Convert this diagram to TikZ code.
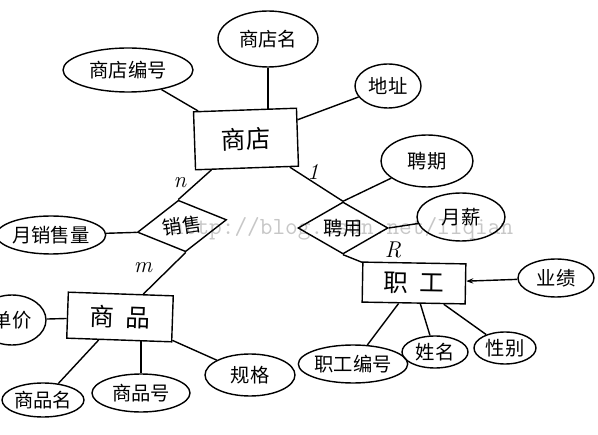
\documentclass[tikz,border=0pt]{standalone}
\usepackage{fontspec}
\newfontfamily\cjk{Noto Sans CJK SC}
\usetikzlibrary{shapes.geometric,arrows.meta}

\begin{document}
\begin{tikzpicture}[
    x=0.02cm, y=-0.02cm,
    every node/.style={font=\cjk\fontsize{11}{12}\selectfont},
    attr/.style={ellipse,draw,thick,inner sep=0pt},
    entity/.style={rectangle,draw,thick,inner sep=0pt,font=\cjk\fontsize{14}{16}\selectfont},
    rel/.style={diamond,draw,thick,inner sep=0pt,aspect=1.7},
    card/.style={font=\itshape\fontsize{13}{14}\selectfont},
    link/.style={thick}]
    \useasboundingbox (0,0) rectangle (598,435);
    % watermark
    \node[text=black!22,font=\ttfamily\fontsize{14}{14}\selectfont,anchor=west] (wm) at (165,229) {http://blog.csdn.net/liqian};
    % entities
    \node[entity,minimum width=2.06cm,minimum height=1.16cm,rotate=2] (shop) at (246,139) {商店};
    \node[entity,minimum width=2.1cm,minimum height=0.92cm,rotate=-2] (goods) at (120,317) {商\ \ 品};
    \node[entity,minimum width=2.06cm,minimum height=0.8cm,rotate=-1] (staff) at (414,283) {职\ \ 工};
    % relationships
    \node[rel,minimum width=1.8cm,minimum height=1.04cm,rotate=8] (sell) at (182,226) {销售};
    \node[rel,minimum width=1.8cm,minimum height=1.04cm] (hire) at (343,228) {聘用};
    % attributes
    \node[attr,minimum width=2.6cm,minimum height=0.88cm] (shopno) at (128,70) {商店编号};
    \node[attr,minimum width=2cm,minimum height=1.12cm] (shopname) at (268,39) {商店名};
    \node[attr,minimum width=1.32cm,minimum height=0.88cm] (addr) at (388,86) {地址};
    \node[attr,minimum width=1.9cm,minimum height=0.76cm] (sales) at (51,235) {月销售量};
    \node[attr,minimum width=1.36cm,minimum height=1cm] (price) at (12,320) {单价};
    \node[attr,minimum width=1.6cm,minimum height=0.68cm] (gname) at (43,400) {商品名};
    \node[attr,minimum width=1.96cm,minimum height=0.76cm] (gno) at (141,393) {商品号};
    \node[attr,minimum width=1.8cm,minimum height=0.84cm] (spec) at (250,375) {规格};
    \node[attr,minimum width=1.84cm,minimum height=1.04cm] (term) at (427,161) {聘期};
    \node[attr,minimum width=1.76cm,minimum height=0.96cm] (pay) at (461,217) {月薪};
    \node[attr,minimum width=1.52cm,minimum height=0.76cm] (perf) at (556,278) {业绩};
    \node[attr,minimum width=1.86cm,minimum height=0.76cm] (staffno) at (353,364) {职工编号};
    \node[attr,minimum width=1.32cm,minimum height=0.64cm] (sname) at (435,352) {姓名};
    \node[attr,minimum width=1.24cm,minimum height=0.64cm] (sex) at (505,348) {性别};
    % cardinalities
    \node[card] (cn) at (180,183) {n};
    \node[card] (c1) at (313,172) {1};
    \node[card] (cm) at (143,268) {m};
    \node[card] (ck) at (393,250) {R};
    % connectors
    \draw[link] (shopno) -- (shop);
    \draw[link] (shopname.south) -- (shopname.south |- shop.north);
    \draw[link] (addr) -- (shop);
    \draw[link] (shop) -- (sell.north);
    \draw[link] (shop) -- (hire.north);
    \draw[link] (sales) -- (sell.west);
    \draw[link] (sell.south) -- (goods);
    \draw[link] (price) -- (goods);
    \draw[link] (goods) -- (gname);
    \draw[link] (gno.north) -- (gno.north |- goods.south);
    \draw[link] (goods) -- (spec);
    \draw[link] (hire.north) -- (term);
    \draw[link] (hire.east) -- (pay);
    \draw[link] (hire.south) -- (staff);
    \draw[link,-{Stealth[length=4pt]}] (perf) -- (staff);
    \draw[link] (staff) -- (staffno);
    \draw[link] (staff) -- (sname);
    \draw[link] (staff) -- (sex);
\end{tikzpicture}
\end{document}
